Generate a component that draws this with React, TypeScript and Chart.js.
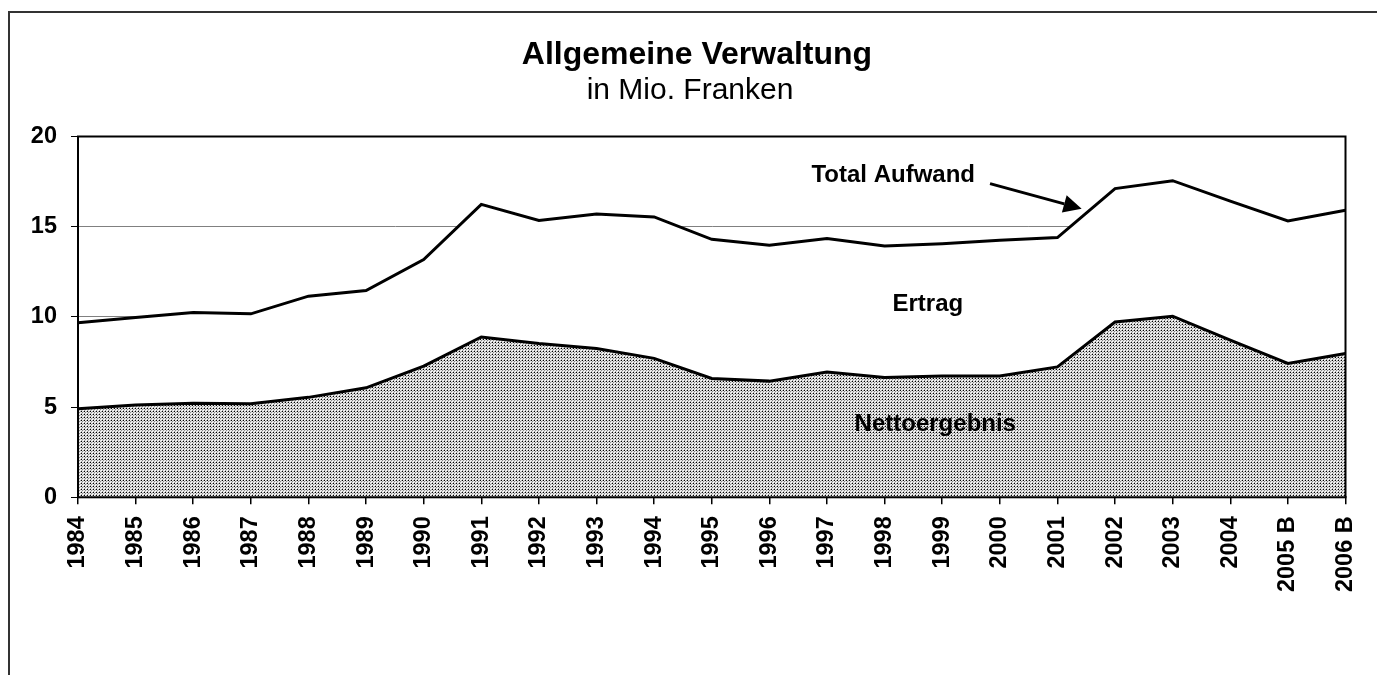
import React, { useEffect, useRef } from "react";
import { Chart, registerables } from "chart.js";

Chart.register(...registerables);

const categories = [
  "1984", "1985", "1986", "1987", "1988", "1989", "1990", "1991", "1992", "1993", "1994",
  "1995", "1996", "1997", "1998", "1999", "2000", "2001", "2002", "2003", "2004", "2005 B", "2006 B",
];
const totalAufwand = [
  9.67, 9.97, 10.24, 10.17, 11.15, 11.46, 13.18, 16.24, 15.35, 15.7, 15.54,
  14.3, 13.97, 14.34, 13.93, 14.06, 14.25, 14.4, 17.11, 17.55, 16.42, 15.32, 15.91,
];
const nettoergebnis = [
  4.91, 5.11, 5.22, 5.18, 5.54, 6.07, 7.27, 8.89, 8.53, 8.25, 7.7,
  6.59, 6.44, 6.94, 6.64, 6.72, 6.72, 7.23, 9.72, 10.04, 8.71, 7.42, 7.97,
];
const yTicks = [0, 5, 10, 15, 20];

const titleText = "Allgemeine Verwaltung";
const subtitleText = "in Mio. Franken";

// annotation anchors in data coordinates (category index, value)
const labelTotal = { text: "Total Aufwand", x: 14.15, y: 17.47 };
const labelErtrag = { text: "Ertrag", x: 14.75, y: 10.32 };
const labelNetto = { text: "Nettoergebnis", x: 14.88, y: 3.69 };
const arrowFrom = { x: 15.83, y: 17.39 };
const arrowTo = { x: 17.42, y: 16.0 };

const FONT = "'Liberation Sans', Arial, Helvetica, sans-serif";

function makePattern(): CanvasPattern | string {
  const pc = document.createElement("canvas");
  pc.width = 3;
  pc.height = 3;
  const p = pc.getContext("2d");
  if (!p) return "#b8b8b8";
  const px = [
    ["#000000", "#eeeeee", "#aaaaaa"],
    ["#eeeeee", "#888888", "#dddddd"],
    ["#aaaaaa", "#dddddd", "#ffffff"],
  ];
  for (let r = 0; r < 3; r++) {
    for (let c = 0; c < 3; c++) {
      p.fillStyle = px[r][c];
      p.fillRect(c, r, 1, 1);
    }
  }
  const pat = p.createPattern(pc, "repeat");
  return pat || "#b8b8b8";
}

const decorPlugin = {
  id: "decor",
  beforeDraw(chart: any) {
    const ctx = chart.ctx;
    ctx.save();
    ctx.fillStyle = "#ffffff";
    ctx.fillRect(0, 0, chart.width, chart.height);
    ctx.restore();
  },
  afterDraw(chart: any) {
    const ctx: CanvasRenderingContext2D = chart.ctx;
    const xs = chart.scales.x;
    const ys = chart.scales.y;
    const area = chart.chartArea;
    ctx.save();
    // outer frame (open to the right and bottom)
    ctx.strokeStyle = "#333333";
    ctx.lineWidth = 2;
    ctx.beginPath();
    ctx.moveTo(9, chart.height);
    ctx.lineTo(9, 12);
    ctx.lineTo(chart.width, 12);
    ctx.stroke();

    // plot border
    ctx.strokeStyle = "#000000";
    ctx.lineWidth = 2;
    ctx.strokeRect(area.left, area.top, area.right - area.left, area.bottom - area.top);

    // title
    ctx.fillStyle = "#000000";
    ctx.textAlign = "center";
    ctx.textBaseline = "alphabetic";
    ctx.font = `bold 32px ${FONT}`;
    ctx.fillText(titleText, 697, 64);
    ctx.font = `30px ${FONT}`;
    ctx.fillText(subtitleText, 690, 99);

    // labels inside plot
    ctx.font = `bold 24px ${FONT}`;
    for (const l of [labelTotal, labelErtrag, labelNetto]) {
      ctx.fillText(l.text, xs.getPixelForValue(l.x), ys.getPixelForValue(l.y));
    }

    // arrow
    const x1 = xs.getPixelForValue(arrowFrom.x);
    const y1 = ys.getPixelForValue(arrowFrom.y);
    const x2 = xs.getPixelForValue(arrowTo.x);
    const y2 = ys.getPixelForValue(arrowTo.y);
    const ang = Math.atan2(y2 - y1, x2 - x1);
    const headLen = 18;
    const headHalf = 9;
    const bx = x2 - headLen * Math.cos(ang);
    const by = y2 - headLen * Math.sin(ang);
    ctx.strokeStyle = "#000";
    ctx.lineWidth = 3;
    ctx.beginPath();
    ctx.moveTo(x1, y1);
    ctx.lineTo(bx, by);
    ctx.stroke();
    ctx.beginPath();
    ctx.moveTo(x2, y2);
    ctx.lineTo(bx + headHalf * Math.sin(ang), by - headHalf * Math.cos(ang));
    ctx.lineTo(bx - headHalf * Math.sin(ang), by + headHalf * Math.cos(ang));
    ctx.closePath();
    ctx.fillStyle = "#000";
    ctx.fill();
    ctx.restore();
  },
};

export default function App() {
  const canvasRef = useRef<HTMLCanvasElement | null>(null);

  useEffect(() => {
    const canvas = canvasRef.current;
    if (!canvas) return;
    const pattern = makePattern();
    const tickFont = { family: FONT, size: 23.5, weight: "bold" as const };
    const chart = new Chart(canvas, {
      type: "line",
      data: {
        labels: categories,
        datasets: [
          {
            label: "Nettoergebnis",
            data: nettoergebnis,
            borderColor: "#000000",
            borderWidth: 3,
            backgroundColor: pattern as any,
            fill: "origin",
            pointRadius: 0,
            tension: 0,
          },
          {
            label: "Total Aufwand",
            data: totalAufwand,
            borderColor: "#000000",
            borderWidth: 3,
            backgroundColor: "#ffffff",
            fill: "origin",
            pointRadius: 0,
            tension: 0,
          },
        ],
      },
      options: {
        responsive: false,
        animation: false,
        events: [],
        layout: { padding: { left: 0, right: 31.5, top: 136.5, bottom: 0 } },
        plugins: {
          legend: { display: false },
          title: { display: false },
          tooltip: { enabled: false },
        },
        scales: {
          x: {
            type: "category",
            offset: false,
            grid: {
              drawOnChartArea: false,
              drawTicks: true,
              tickLength: 7,
              tickColor: "#000000",
              lineWidth: 1.5,
            },
            border: { display: true, color: "#000000", width: 2 },
            ticks: {
              autoSkip: false,
              minRotation: 90,
              maxRotation: 90,
              padding: 12,
              color: "#000000",
              font: tickFont,
            },
            afterFit: (scale: any) => {
              scale.height = 675 - 497.3;
              scale.paddingLeft = 0;
              scale.paddingRight = 0;
            },
          },
          y: {
            min: 0,
            max: 20,
            afterBuildTicks: (scale: any) => {
              scale.ticks = yTicks.map((v) => ({ value: v }));
            },
            grid: {
              color: "#808080",
              lineWidth: 1,
              drawTicks: true,
              tickLength: 7,
              tickColor: "#000000",
            },
            border: { display: true, color: "#000000", width: 2 },
            ticks: {
              padding: 14,
              color: "#000000",
              font: tickFont,
            },
            afterFit: (scale: any) => {
              scale.width = 78;
              scale.paddingTop = 0;
              scale.paddingBottom = 0;
            },
          },
        },
      },
      plugins: [decorPlugin],
    });
    return () => chart.destroy();
  }, []);

  return (
    <div style={{ position: "absolute", left: 0, top: 0, width: 1377, height: 675 }}>
      <canvas ref={canvasRef} width={1377} height={675} style={{ display: "block" }} />
    </div>
  );
}
